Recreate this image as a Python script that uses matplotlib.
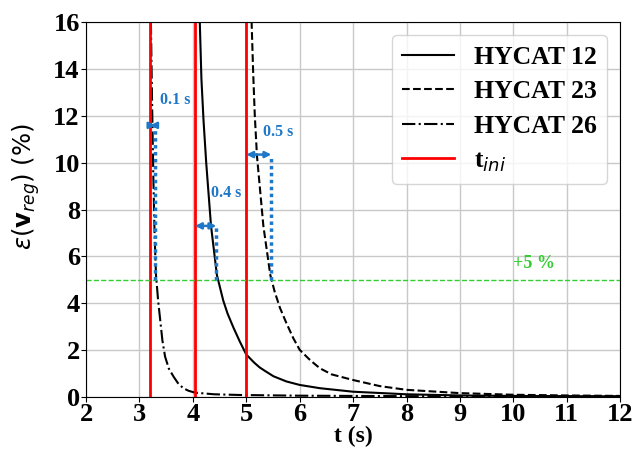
import matplotlib
matplotlib.use("Agg")
import matplotlib.pyplot as plt

# values
t12 = [4.10, 4.13, 4.16, 4.20, 4.25, 4.34, 4.45, 4.57, 4.65, 4.76, 4.88, 5.0, 5.15, 5.25, 5.35,
       5.51, 5.75, 6.0, 6.38, 7.0, 8.0, 9.0, 10.0, 11.0, 12.0]
e12 = [19.0, 16.0, 13.6, 11.8, 10.0, 7.3, 5.2, 4.1, 3.55, 2.95, 2.35, 1.8, 1.45, 1.25, 1.1,
       0.87, 0.65, 0.5, 0.36, 0.21, 0.10, 0.05, 0.03, 0.02, 0.01]

t23 = [5.08, 5.10, 5.13, 5.16, 5.20, 5.32, 5.45, 5.53, 5.63, 5.75, 5.88, 6.0, 6.2, 6.38, 6.6,
       7.0, 7.5, 8.0, 9.0, 10.0, 11.0, 12.0]
e23 = [19.0, 16.0, 13.8, 12.0, 10.3, 7.3, 5.2, 4.5, 3.8, 3.15, 2.5, 2.0, 1.55, 1.21, 0.95,
       0.71, 0.45, 0.29, 0.15, 0.08, 0.05, 0.03]

t26 = [3.205, 3.215, 3.235, 3.26, 3.285, 3.31, 3.35, 3.39, 3.43, 3.48, 3.55, 3.64, 3.72, 3.82,
       3.92, 4.04, 4.4, 4.88, 6.0, 8.0, 10.0, 12.0]
e26 = [19.0, 16.0, 12.8, 9.4, 6.8, 5.2, 4.1, 3.25, 2.4, 1.71, 1.2, 0.85, 0.58, 0.36,
       0.25, 0.17, 0.1, 0.07, 0.04, 0.02, 0.01, 0.01]

t_ini = [3.20, 4.04, 5.0]
threshold = 5.0

# delay arrows: (start, end, height, label, label_x, label_y)
delays = [(3.20, 3.30, 11.6, "0.1 s", 3.39, 12.7),
          (4.04, 4.44, 7.3, "0.4 s", 4.34, 8.7),
          (5.00, 5.47, 10.35, "0.5 s", 5.31, 11.3)]

BLUE = "#1f77c8"
GREEN = "#33cc33"
serif = ["Liberation Serif", "DejaVu Serif"]

fig = plt.figure(figsize=(6.42, 4.58), dpi=100)
ax = fig.add_axes([0.134, 0.134, 0.832, 0.817])

ax.grid(True, color="#c8c8c8", lw=1)
ax.set_axisbelow(True)

ax.plot(t12, e12, "-", color="black", lw=1.5, label="HYCAT 12")
ax.plot(t23, e23, "--", color="black", lw=1.5, label="HYCAT 23")
ax.plot(t26, e26, "-.", color="black", lw=1.5, label="HYCAT 26")
for i, t in enumerate(t_ini):
    ax.axvline(t, color="red", lw=2, label="t$_{ini}$" if i == 0 else None)

ax.axhline(threshold, color=GREEN, ls="--", lw=1)
ax.text(9.99, 5.7, "+5 %", color=GREEN, fontsize=13, fontweight="bold",
        family=serif, va="center")

for x0, x1, y, lab, lx, ly in delays:
    ax.plot([x1, x1], [threshold, y], color=BLUE, lw=2.5, ls=(0, (1, 1)))
    ax.annotate("", xy=(x1, y), xytext=(x0, y),
                arrowprops=dict(arrowstyle="<|-|>", color=BLUE, lw=1.8,
                                mutation_scale=9, shrinkA=0, shrinkB=0))
    ax.text(lx, ly, lab, color=BLUE, fontsize=11.5, fontweight="bold",
            family=serif, va="center")

ax.set_xlim(2, 12)
ax.set_ylim(0, 16)
ax.set_xticks(range(2, 13))
ax.set_yticks(range(0, 17, 2))
for lbl in ax.get_xticklabels() + ax.get_yticklabels():
    lbl.set_fontfamily(serif)
    lbl.set_fontweight("bold")
    lbl.set_fontsize(19)
ax.tick_params(pad=1)

ax.set_xlabel("t (s)", fontsize=17, fontweight="bold", family=serif, labelpad=0)
ax.set_ylabel(r"$\varepsilon(\mathbf{v}_{reg})$ (%)", fontsize=17.5)
ax.yaxis.set_label_coords(-0.082, 0.56)

leg = ax.legend(loc="upper right", prop={"family": serif, "weight": "bold", "size": 18.5},
                borderaxespad=0.5, labelspacing=0.45, handletextpad=0.8)

fig.savefig("out.png", dpi=100)
